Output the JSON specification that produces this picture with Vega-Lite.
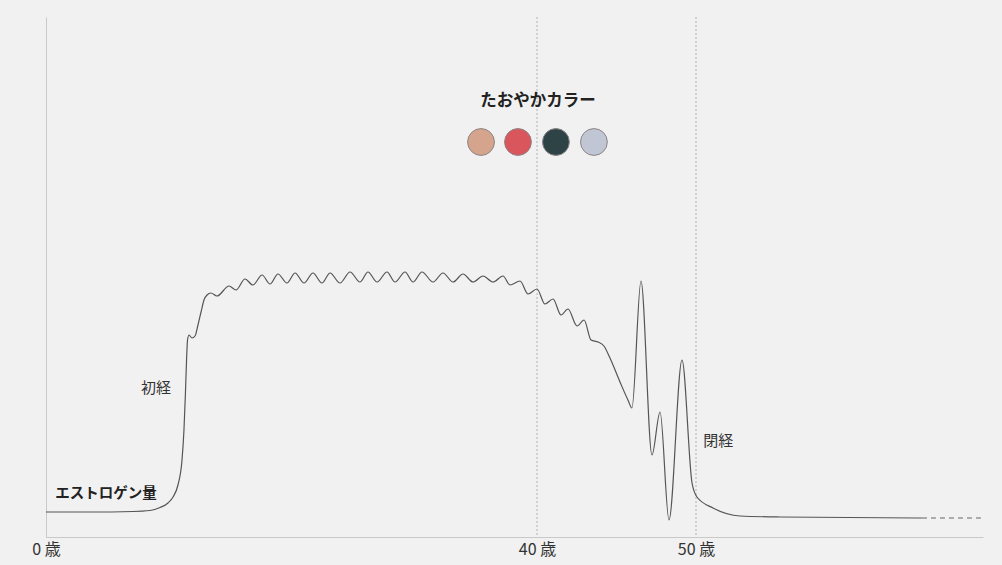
{
  "$schema": "https://vega.github.io/schema/vega-lite/v6.json",
  "autosize": {"type": "none"},
  "width": 937,
  "height": 520,
  "padding": {"left": 46, "top": 17, "right": 19, "bottom": 28},
  "background": "#f1f1f1",
  "config": {
    "view": {"stroke": null},
    "font": "Noto Sans CJK JP"
  },
  "datasets": {
    "curve": [
      {"age": 0, "v": 25}, {"age": 3.58, "v": 25}, {"age": 7.09, "v": 25.5}, {"age": 8.47, "v": 26.5},
      {"age": 9.29, "v": 29.5}, {"age": 9.94, "v": 34}, {"age": 10.35, "v": 40}, {"age": 10.75, "v": 52},
      {"age": 11.08, "v": 77}, {"age": 11.24, "v": 107}, {"age": 11.36, "v": 144}, {"age": 11.45, "v": 177},
      {"age": 11.53, "v": 197}, {"age": 11.65, "v": 202}, {"age": 11.89, "v": 199}, {"age": 12.14, "v": 201},
      {"age": 12.38, "v": 212}, {"age": 12.63, "v": 225}, {"age": 12.87, "v": 237}, {"age": 13.12, "v": 242},
      {"age": 13.44, "v": 244}, {"age": 13.93, "v": 241}, {"age": 14.91, "v": 251}, {"age": 15.48, "v": 247},
      {"age": 16.21, "v": 258}, {"age": 16.86, "v": 252}, {"age": 17.6, "v": 262}, {"age": 18.25, "v": 253},
      {"age": 18.9, "v": 263}, {"age": 19.63, "v": 254}, {"age": 20.29, "v": 264}, {"age": 21.02, "v": 254},
      {"age": 21.75, "v": 264}, {"age": 22.48, "v": 254}, {"age": 23.14, "v": 264}, {"age": 23.95, "v": 254},
      {"age": 24.77, "v": 265}, {"age": 25.58, "v": 255}, {"age": 26.23, "v": 265}, {"age": 26.97, "v": 255},
      {"age": 27.78, "v": 265}, {"age": 28.43, "v": 255}, {"age": 29.25, "v": 265}, {"age": 29.9, "v": 255},
      {"age": 30.63, "v": 265}, {"age": 31.53, "v": 255}, {"age": 32.34, "v": 264}, {"age": 33.16, "v": 255},
      {"age": 33.97, "v": 263}, {"age": 34.79, "v": 255}, {"age": 35.6, "v": 261}, {"age": 36.42, "v": 255},
      {"age": 37.23, "v": 261}, {"age": 37.8, "v": 252}, {"age": 38.62, "v": 256}, {"age": 39.27, "v": 243},
      {"age": 40, "v": 248}, {"age": 40.5, "v": 233}, {"age": 41.01, "v": 238}, {"age": 41.51, "v": 222},
      {"age": 41.95, "v": 228}, {"age": 42.52, "v": 211}, {"age": 42.96, "v": 217}, {"age": 43.4, "v": 197},
      {"age": 43.84, "v": 195}, {"age": 44.21, "v": 191}, {"age": 44.59, "v": 179}, {"age": 45.22, "v": 155},
      {"age": 45.72, "v": 137}, {"age": 45.97, "v": 129}, {"age": 46.54, "v": 256}, {"age": 47.23, "v": 82},
      {"age": 47.74, "v": 125}, {"age": 48.3, "v": 17}, {"age": 49.12, "v": 177}, {"age": 49.75, "v": 54},
      {"age": 50.06, "v": 40}, {"age": 51.07, "v": 29}, {"age": 52.77, "v": 21}, {"age": 55.28, "v": 20},
      {"age": 64.21, "v": 19}
    ],
    "tail": [{"age": 64.21, "v": 19}, {"age": 68.05, "v": 19}],
    "refs": [{"age": 40}, {"age": 50}],
    "palette": [
      {"age": 35.44, "v": 395, "name": "c1"},
      {"age": 38.45, "v": 395, "name": "c2"},
      {"age": 41.19, "v": 395, "name": "c3"},
      {"age": 43.58, "v": 395, "name": "c4"}
    ],
    "title": [{"age": 40.06, "v": 436, "label": "たおやかカラー"}],
    "labels": [
      {"age": 8.96, "v": 149, "label": "初経"},
      {"age": 51.4, "v": 96, "label": "閉経"}
    ],
    "boldlabels": [
      {"age": 4.89, "v": 43, "label": "エストロゲン量"}
    ]
  },
  "encoding": {
    "x": {
      "field": "age", "type": "quantitative",
      "scale": {"domain": [0, 40, 50, 68.05], "range": [0, 491, 650, 937], "nice": false, "zero": false},
      "axis": {
        "title": null, "values": [0, 40, 50], "labelExpr": "datum.value + ' 歳'",
        "ticks": false, "grid": false, "labelFlush": false, "labelFontSize": 16,
        "labelColor": "#333", "labelPadding": 4, "domainColor": "#c9c9c9", "domainWidth": 1,
        "labelFont": "Noto Sans CJK JP"
      }
    },
    "y": {
      "field": "v", "type": "quantitative",
      "scale": {"domain": [0, 520], "nice": false},
      "axis": {"title": null, "labels": false, "ticks": false, "grid": false, "domainColor": "#c9c9c9", "domainWidth": 1}
    }
  },
  "layer": [
    {
      "data": {"name": "refs"},
      "mark": {"type": "rule", "color": "#b0b0b0", "strokeDash": [2, 2], "strokeWidth": 1},
      "encoding": {"y": null}
    },
    {
      "data": {"name": "curve"},
      "mark": {"type": "line", "interpolate": "monotone", "color": "#555", "strokeWidth": 1.2}
    },
    {
      "data": {"name": "tail"},
      "mark": {"type": "line", "color": "#666", "strokeWidth": 1.2, "strokeDash": [5, 4]}
    },
    {
      "data": {"name": "palette"},
      "mark": {"type": "circle", "size": 720, "opacity": 1, "stroke": "#8d8486", "strokeWidth": 1},
      "encoding": {
        "color": {
          "field": "name", "type": "nominal", "legend": null,
          "scale": {"domain": ["c1", "c2", "c3", "c4"], "range": ["#d5a48d", "#d9565c", "#2e4346", "#c0c6d4"]}
        }
      }
    },
    {
      "data": {"name": "title"},
      "mark": {"type": "text", "fontSize": 16.5, "fontWeight": "bold", "color": "#222", "align": "center", "baseline": "middle"},
      "encoding": {"text": {"field": "label"}}
    },
    {
      "data": {"name": "labels"},
      "mark": {"type": "text", "fontSize": 15, "color": "#333", "align": "center", "baseline": "middle"},
      "encoding": {"text": {"field": "label"}}
    },
    {
      "data": {"name": "boldlabels"},
      "mark": {"type": "text", "fontSize": 14.5, "fontWeight": "bold", "color": "#222", "align": "center", "baseline": "middle"},
      "encoding": {"text": {"field": "label"}}
    }
  ]
}
